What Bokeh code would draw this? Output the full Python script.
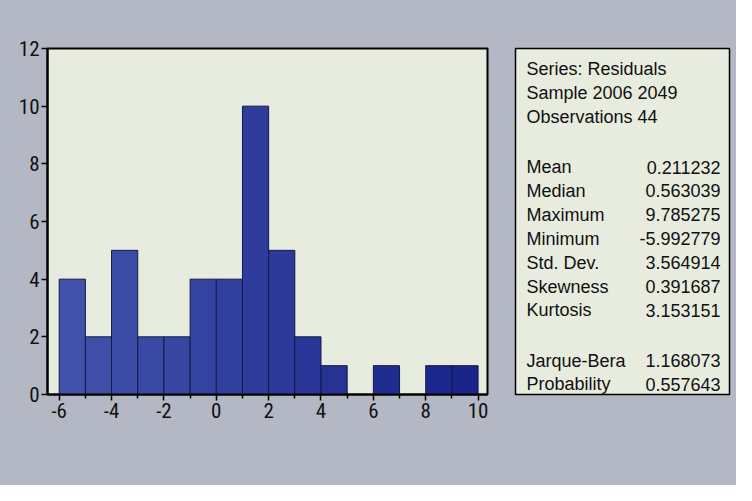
from bokeh.plotting import figure
from bokeh.layouts import row
from bokeh.models import Range1d, FixedTicker, ColumnDataSource
from bokeh.embed import file_html
from bokeh.resources import INLINE
from bokeh.core.properties import value

# ---- data ----
bin_left = [-6, -5, -4, -3, -2, -1, 0, 1, 2, 3, 4, 5, 6, 7, 8, 9]
bin_right = [-5, -4, -3, -2, -1, 0, 1, 2, 3, 4, 5, 6, 7, 8, 9, 10]
counts = [4, 2, 5, 2, 2, 4, 4, 10, 5, 2, 1, 0, 1, 0, 1, 1]
x_ticks = [-6, -4, -2, 0, 2, 4, 6, 8, 10]
x_tick_labels = ["-6", "-4", "-2", "0", "2", "4", "6", "8", "10"]
x_minor = [-5, -3, -1, 1, 3, 5, 7, 9]
y_ticks = [0, 2, 4, 6, 8, 10, 12]
y_tick_labels = ["0", "2", "4", "6", "8", "10", "12"]

header_lines = ["Series: Residuals", "Sample 2006 2049", "Observations 44"]
stat_names = ["Mean", "Median", "Maximum", "Minimum", "Std. Dev.", "Skewness", "Kurtosis"]
stat_values = ["0.211232", "0.563039", "9.785275", "-5.992779", "3.564914", "0.391687", "3.153151"]
test_names = ["Jarque-Bera", "Probability"]
test_values = ["1.168073", "0.557643"]

BG = "#b4b8c4"
PANEL = "#e7ecdf"
FONT = "Liberation Sans"
TICKFONT = "Roboto Condensed, Liberation Sans Narrow, Liberation Sans"

# bar colours (lighter blue on the left to deep navy on the right)
def lerp(c1, c2, t):
    return "#%02x%02x%02x" % tuple(int(round(a + (b - a) * t)) for a, b in zip(c1, c2))
c_left = (66, 82, 170)
c_right = (24, 36, 138)
n = len(counts)
bar_colors = [lerp(c_left, c_right, i / (n - 1)) for i in range(n)]

src = ColumnDataSource(dict(left=bin_left, right=bin_right, top=counts,
                            bottom=[0] * n, color=bar_colors))

p = figure(width=505, height=485, output_backend="svg", toolbar_location=None,
           x_range=Range1d(-6.447, 10.36), y_range=Range1d(0, 12),
           min_border_left=47, min_border_right=18, min_border_top=48, min_border_bottom=75)
p.background_fill_color = PANEL
p.border_fill_color = BG
p.outline_line_color = "black"
p.outline_line_width = 2
p.grid.visible = False

p.quad(left="left", right="right", top="top", bottom="bottom", fill_color="color",
       line_color="#141a48", line_width=1, source=src)

p.xaxis.ticker = FixedTicker(ticks=x_ticks, minor_ticks=x_minor)
p.yaxis.ticker = FixedTicker(ticks=y_ticks)
p.xaxis.major_label_overrides = dict(zip(x_ticks, x_tick_labels))
p.yaxis.major_label_overrides = dict(zip(y_ticks, y_tick_labels))
for ax in (p.xaxis[0], p.yaxis[0]):
    ax.axis_line_color = "black"
    ax.axis_line_width = 2
    ax.major_tick_line_color = "black"
    ax.major_tick_line_width = 1.5
    ax.major_tick_out = 6
    ax.major_tick_in = 0
    ax.minor_tick_line_color = "black"
    ax.minor_tick_line_width = 1.5
    ax.minor_tick_out = 4
    ax.minor_tick_in = 0
    ax.major_label_text_font = TICKFONT
    ax.major_label_text_font_size = "21px"
    ax.major_label_text_color = "#111111"
    ax.major_label_standoff = 2
p.yaxis[0].minor_tick_line_color = None

# ---- statistics box ----
BOX_W, BOX_H = 214, 346
q = figure(width=231, height=485, output_backend="svg", toolbar_location=None,
           x_range=Range1d(0, BOX_W), y_range=Range1d(BOX_H, 0),
           min_border_left=10, min_border_right=7, min_border_top=48, min_border_bottom=91)
q.background_fill_color = PANEL
q.border_fill_color = BG
q.outline_line_color = "black"
q.outline_line_width = 1.5
q.grid.visible = False
q.axis.visible = False

lh = 23.9
xl, xr = 11, 205
y0, ys, yt = 20.5, 118.5, 312
lab_x, lab_y, lab_t = [], [], []
val_x, val_y, val_t = [], [], []
for i, s in enumerate(header_lines):
    lab_x.append(xl); lab_y.append(y0 + i * lh); lab_t.append(s)
for i, (a, b) in enumerate(zip(stat_names, stat_values)):
    lab_x.append(xl); lab_y.append(ys + i * lh); lab_t.append(a)
    val_x.append(xr); val_y.append(ys + i * lh); val_t.append(b)
for i, (a, b) in enumerate(zip(test_names, test_values)):
    lab_x.append(xl); lab_y.append(yt + i * lh); lab_t.append(a)
    val_x.append(xr); val_y.append(yt + i * lh); val_t.append(b)

q.text(x=lab_x, y=lab_y, text=lab_t, text_font=value(FONT), text_font_size="18px",
       text_color="#111111", text_align="left", text_baseline="middle")
q.text(x=val_x, y=val_y, text=val_t, text_font=value(FONT), text_font_size="18px",
       text_color="#111111", text_align="right", text_baseline="middle")

layout = row(p, q, spacing=0)
layout.styles = {"background-color": BG}

open("out.html", "w").write(file_html(layout, INLINE))
